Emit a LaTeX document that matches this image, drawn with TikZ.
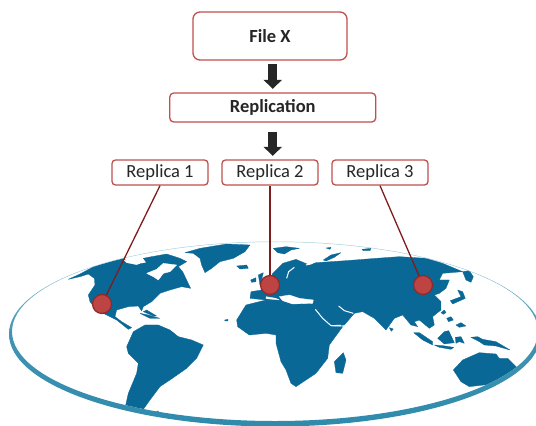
\documentclass[tikz,border=0pt]{standalone}
\usepackage{fontspec}
\setmainfont{Carlito}
\usetikzlibrary{arrows.meta,calc}
\definecolor{boxred}{HTML}{C0504D}
\definecolor{linered}{HTML}{7F1D1D}
\definecolor{dotred}{HTML}{BE4444}
\definecolor{dotedge}{HTML}{8F2A2A}
\definecolor{land}{HTML}{0A6896}
\definecolor{ringdark}{HTML}{2F8AAB}
\definecolor{ringlight}{HTML}{A5CFDF}
\definecolor{txt}{HTML}{262626}
\tikzset{
  bigbox/.style={draw=boxred,line width=1.3pt,rounded corners=7pt,fill=white,text=txt,inner sep=0pt,font=\fontsize{18.5}{20}\selectfont\bfseries},
  smallbox/.style={draw=boxred,line width=1.3pt,rounded corners=3.5pt,fill=white,text=txt,inner sep=0pt,minimum width=96pt,minimum height=25pt,font=\fontsize{18.5}{20}\selectfont},
  flow/.style={draw=txt,line width=9pt,-{Triangle[length=9pt,width=18pt]}},
  lead/.style={draw=linered,line width=1.3pt},
  pin/.style={circle,fill=dotred,draw=dotedge,line width=1.2pt,minimum size=19pt,inner sep=0pt},
  landmass/.style={fill=land,draw=land,line width=.3pt,line join=round},
  gap/.style={fill=white,draw=white,line width=.3pt,line join=round},
  gapline/.style={draw=white,line width=1pt,line join=round},
}
\begin{document}
\begin{tikzpicture}[x=1pt,y=-1pt]
\useasboundingbox (0,0) rectangle (536,426);
\begin{scope}
\clip (275,331.5) ellipse [x radius=263,y radius=89.5];
% left half of the map (coordinates of a 3x crop)
\begin{scope}[shift={(0,230)},x=.3333pt,y=-.3333pt]
\fill[landmass] (205,148)--(240,132)--(300,100)--(365,80)--(385,98)--(415,102)--(440,98)--(430,85)--(455,80)--(500,72)--(540,85)--(560,95)--(535,110)--(548,125)--(560,150)--(572,175)--(545,170)--(510,180)--(480,190)--(455,215)--(430,230)--(425,243)--(415,228)--(385,230)--(350,240)--(345,260)--(365,275)--(395,293)--(385,298)--(350,270)--(310,250)--(290,240)--(270,215)--(265,195)--(285,165)--(283,145)--(265,132)--(240,140)--cycle;
\fill[gap] (440,130)--(470,118)--(490,100)--(530,105)--(510,125)--(490,130)--(475,150)--(460,140)--cycle;
\fill[gap] (372,90)--(420,100)--(410,104)--(380,98)--cycle;
\fill[landmass] (555,68)--(600,55)--(680,42)--(750,45)--(735,65)--(700,85)--(660,95)--(635,115)--(615,128)--(605,105)--(600,85)--(580,70)--cycle;
\fill[landmass] (710,108)--(740,105)--(745,115)--(720,117)--cycle;
\fill[landmass] (420,250)--(445,255)--(480,265)--(450,265)--cycle;
\fill[landmass] (430,245)--(440,240)--(470,258)--(460,258)--cycle;
\fill[landmass] (674,270)--(684,268)--(684,273)--(675,273)--cycle;
\fill[landmass] (462,545)--(475,543)--(476,549)--(465,549)--cycle;
\fill[landmass] (400,305)--(435,285)--(475,285)--(510,300)--(535,320)--(575,330)--(610,345)--(590,385)--(560,415)--(510,450)--(480,470)--(450,510)--(425,545)--(375,535)--(385,490)--(410,430)--(415,400)--(385,370)--(380,350)--cycle;
% British Isles
\fill[landmass] (775,135)--(790,128)--(785,150)--(800,160)--(780,165)--cycle;
\fill[landmass] (752,150)--(768,143)--(768,155)--(755,157)--cycle;
\end{scope}
% right half of the map
\begin{scope}[shift={(266,230)},x=.3333pt,y=-.3333pt]
\fill[landmass] (-45,185)--(0,178)--(20,130)--(50,100)--(90,88)--(130,105)--(150,98)--(240,92)--(330,85)--(400,80)--(480,85)--(530,100)--(590,125)--(530,130)--(520,150)--(550,150)--(540,175)--(520,190)--(505,195)--(525,215)--(525,240)--(500,260)--(505,285)--(490,295)--(460,270)--(445,275)--(455,290)--(435,285)--(410,255)--(385,265)--(360,300)--(325,265)--(290,245)--(265,250)--(235,285)--(190,290)--(150,245)--(100,220)--(50,225)--(0,210)--(-48,205)--cycle;
% Africa
\fill[landmass] (-88,270)--(-60,225)--(0,210)--(50,222)--(100,218)--(145,235)--(195,290)--(230,290)--(190,345)--(185,385)--(150,430)--(90,470)--(75,460)--(60,420)--(45,395)--(30,340)--(30,315)--(0,310)--(-50,315)--(-85,290)--cycle;
% seas
\fill[gap] (40,200)--(70,195)--(100,205)--(142,210)--(140,220)--(80,222)--(50,212)--cycle;
\fill[gap] (0,200)--(30,205)--(40,210)--(0,206)--cycle;
\draw[gapline] (148,238)--(170,265)--(195,287)--(225,286);
\draw[gapline] (218,228)--(235,242)--(262,250);
\draw[gapline] (62,145)--(68,125)--(85,112);
\draw[gapline] (120,105)--(140,100);
\draw[gapline] (450,292)--(470,315);
% arctic islands
\fill[landmass] (22,55)--(60,50)--(100,55)--(75,60)--(55,72)--(35,68)--cycle;
\fill[landmass] (172,90)--(195,75)--(225,68)--(205,82)--(180,93)--cycle;
\fill[landmass] (180,54)--(195,52)--(192,58)--cycle;
\fill[landmass] (288,58)--(315,55)--(312,62)--(292,62)--cycle;
% Kamchatka side, Japan, islands
\fill[landmass] (590,125)--(610,122)--(622,140)--(615,157)--(600,150)--cycle;
\fill[landmass] (575,180)--(590,185)--(598,205)--(560,222)--(553,212)--(585,200)--cycle;
\fill[landmass] (525,248)--(535,240)--(540,248)--(532,253)--cycle;
\fill[landmass] (542,265)--(555,260)--(562,270)--(548,275)--cycle;
\fill[landmass] (570,285)--(585,278)--(600,288)--(580,292)--cycle;
\fill[landmass] (443,308)--(460,308)--(500,335)--(500,345)--(470,330)--cycle;
\fill[landmass] (505,345)--(530,347)--(563,352)--(555,358)--(520,352)--cycle;
\fill[landmass] (515,325)--(535,305)--(548,302)--(565,338)--(535,342)--cycle;
\fill[landmass] (568,322)--(585,320)--(595,340)--(580,335)--(570,340)--cycle;
\fill[landmass] (615,322)--(635,320)--(650,328)--(690,335)--(732,360)--(690,348)--(655,345)--(640,335)--cycle;
% Australia
\fill[landmass] (562,420)--(590,390)--(640,368)--(690,372)--(700,385)--(725,385)--(770,430)--(680,462)--(610,470)--(585,455)--cycle;
% Madagascar
\fill[landmass] (205,395)--(232,368)--(240,390)--(230,430)--(210,428)--cycle;
% Sri Lanka
\fill[landmass] (370,293)--(382,297)--(376,304)--cycle;
\end{scope}
\end{scope}
% globe rim
\path[shade,top color=ringlight,bottom color=ringdark,middle color=ringdark!85!ringlight,even odd rule]
  (275,334) ellipse [x radius=266,y radius=92.5]
  (275,331.5) ellipse [x radius=263,y radius=89.5];
% boxes
\node[bigbox,minimum width=154pt,minimum height=48pt] (filex) at (270,36) {File X};
\node[bigbox,rounded corners=4pt,minimum width=206pt,minimum height=29pt] (repl) at (272.75,107.5) {Replication};
\node[smallbox] (r1) at (160,172.5) {Replica 1};
\node[smallbox] (r2) at (270,172.5) {Replica 2};
\node[smallbox] (r3) at (380,172.5) {Replica 3};
% pins
\node[pin] (d1) at (102,304) {};
\node[pin] (d2) at (270,285) {};
\node[pin] (d3) at (423,285) {};
% connectors
\draw[flow,shorten <=3pt,shorten >=3.5pt] (repl.north |- filex.south) -- (repl.north);
\draw[flow,shorten <=9pt,shorten >=3.5pt] (repl.south) -- (repl.south |- r2.north);
\draw[lead] (r1.south) -- (d1);
\draw[lead] (r2.south) -- (d2);
\draw[lead] (r3.south) -- (d3);
\end{tikzpicture}
\end{document}
